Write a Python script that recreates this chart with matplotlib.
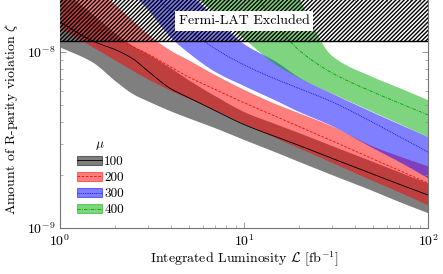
import numpy as np
import matplotlib
matplotlib.use("Agg")
import matplotlib.pyplot as plt
from matplotlib.patches import Patch
from matplotlib.lines import Line2D
from matplotlib.legend_handler import HandlerTuple
from matplotlib.ticker import NullFormatter

plt.rcParams["font.family"] = "cmr10"
plt.rcParams["mathtext.fontset"] = "cm"
plt.rcParams["axes.formatter.use_mathtext"] = True
plt.rcParams["hatch.linewidth"] = 1.0

# Luminosity grid (fb^-1)
lumi = [1, 1.5, 2, 2.5, 3, 4, 5, 7, 10, 15, 20, 30, 50, 70, 100]

# mu = 100
mu100_lo = [1.067e-8, 8.77e-9, 6.84e-9, 5.77e-9, 5.27e-9, 4.62e-9, 4.22e-9, 3.70e-9, 3.18e-9, 2.69e-9, 2.38e-9, 2.01e-9, 1.63e-9, 1.41e-9, 1.22e-9]
mu100_mid = [1.48e-8, 1.155e-8, 1.03e-8, 9.12e-9, 7.80e-9, 6.18e-9, 5.51e-9, 4.63e-9, 3.87e-9, 3.29e-9, 2.94e-9, 2.49e-9, 2.03e-9, 1.77e-9, 1.54e-9]
mu100_hi = [2.31e-8, 1.64e-8, 1.28e-8, 1.08e-8, 9.75e-9, 8.11e-9, 6.94e-9, 5.62e-9, 4.58e-9, 3.89e-9, 3.47e-9, 2.94e-9, 2.39e-9, 2.08e-9, 1.80e-9]

# mu = 200
mu200_lo = [1.37e-8, 1.07e-8, 8.97e-9, 7.82e-9, 7.03e-9, 6.04e-9, 5.45e-9, 4.66e-9, 3.91e-9, 3.24e-9, 2.84e-9, 2.36e-9, 1.86e-9, 1.60e-9, 1.35e-9]
mu200_mid = [1.78e-8, 1.41e-8, 1.20e-8, 1.067e-8, 9.75e-9, 8.22e-9, 7.21e-9, 6.12e-9, 5.15e-9, 4.29e-9, 3.76e-9, 3.13e-9, 2.47e-9, 2.12e-9, 1.80e-9]
mu200_hi = [3.56e-8, 2.43e-8, 1.85e-8, 1.50e-8, 1.265e-8, 1.02e-8, 9.01e-9, 7.40e-9, 6.12e-9, 5.06e-9, 4.50e-9, 3.80e-9, 2.92e-9, 2.56e-9, 2.25e-9]

# mu = 300
mu300_lo = [4.93e-8, 3.40e-8, 2.62e-8, 2.13e-8, 1.74e-8, 1.21e-8, 9.87e-9, 7.69e-9, 6.41e-9, 5.27e-9, 4.56e-9, 3.80e-9, 2.85e-9, 2.37e-9, 1.92e-9]
mu300_mid = [7.31e-8, 4.93e-8, 3.56e-8, 2.81e-8, 2.31e-8, 1.71e-8, 1.35e-8, 1.04e-8, 8.45e-9, 6.98e-9, 6.20e-9, 5.22e-9, 3.99e-9, 3.30e-9, 2.70e-9]
mu300_hi = [1.41e-7, 8.89e-8, 6.41e-8, 4.93e-8, 4.00e-8, 2.85e-8, 2.21e-8, 1.56e-8, 1.11e-8, 8.77e-9, 7.15e-9, 5.81e-9, 4.54e-9, 3.88e-9, 3.29e-9]

# mu = 400
mu400_lo = [1.03e-7, 7.03e-8, 5.33e-8, 4.33e-8, 3.65e-8, 2.77e-8, 2.25e-8, 1.65e-8, 1.19e-8, 8.43e-9, 7.10e-9, 5.82e-9, 4.57e-9, 3.90e-9, 3.29e-9]
mu400_mid = [3.51e-7, 2.22e-7, 1.60e-7, 1.32e-7, 1.08e-7, 8.32e-8, 6.41e-8, 4.33e-8, 2.74e-8, 1.42e-8, 1.02e-8, 7.62e-9, 5.93e-9, 5.12e-9, 4.39e-9]
mu400_hi = [1.69e-6, 1.0e-6, 7.21e-7, 5.55e-7, 4.56e-7, 3.08e-7, 2.37e-7, 1.41e-7, 7.31e-8, 3.34e-8, 2.0e-8, 9.54e-9, 7.21e-9, 6.24e-9, 5.33e-9]

mu_labels = ["100", "200", "300", "400"]
fermi_limit = 1.15e-8
x_major = [1, 10, 100]
y_major = [1e-9, 1e-8]


def smooth(x, y, n=400):
    # monotone cubic (pchip) drawing in log-log space, only for rendering
    lx, ly = np.log10(x), np.log10(y)
    h = np.diff(lx)
    d = np.diff(ly) / h
    m = np.zeros_like(lx)
    m[0], m[-1] = d[0], d[-1]
    for k in range(1, len(lx) - 1):
        if d[k - 1] * d[k] > 0:
            w1 = 2 * h[k] + h[k - 1]
            w2 = h[k] + 2 * h[k - 1]
            m[k] = (w1 + w2) / (w1 / d[k - 1] + w2 / d[k])
    xs = np.linspace(lx[0], lx[-1], n)
    idx = np.clip(np.searchsorted(lx, xs) - 1, 0, len(h) - 1)
    t = (xs - lx[idx]) / h[idx]
    h00 = 2 * t**3 - 3 * t**2 + 1
    h10 = t**3 - 2 * t**2 + t
    h01 = -2 * t**3 + 3 * t**2
    h11 = t**3 - t**2
    ys = h00 * ly[idx] + h10 * h[idx] * m[idx] + h01 * ly[idx + 1] + h11 * h[idx] * m[idx + 1]
    return 10**xs, 10**ys


fig = plt.figure(figsize=(4.43, 2.74), dpi=100)
ax = fig.add_axes([0.1354, 0.1679, 0.8307, 0.8358])

bands = [
    (mu100_lo, mu100_mid, mu100_hi, "black", "black", "-"),
    (mu200_lo, mu200_mid, mu200_hi, "red", "red", (0, (3, 2))),
    (mu300_lo, mu300_mid, mu300_hi, "blue", "blue", (0, (1, 1.2))),
    (mu400_lo, mu400_mid, mu400_hi, "#00aa00", "#00a000", (0, (4, 1.5, 1, 1.5))),
]

handles = []
for lo, mid, hi, fc, lc, ls in bands:
    xs, ylo = smooth(lumi, lo)
    _, yhi = smooth(lumi, hi)
    _, ymid = smooth(lumi, mid)
    ax.fill_between(xs, ylo, yhi, color=fc, alpha=0.5, lw=0)
    ax.plot(xs, ymid, color=lc, ls=ls, lw=0.6)
    handles.append((Patch(facecolor=fc, alpha=0.5, edgecolor=fc, lw=0.8),
                    Line2D([], [], color=lc, ls=ls, lw=0.6)))

# Fermi-LAT excluded region
ax.axhspan(fermi_limit, 1e-7, facecolor="none", edgecolor="black", hatch="////////", lw=0, zorder=5)
ax.axhline(fermi_limit, color="black", lw=1.0, zorder=6)
ax.text(10, 1.5e-8, "Fermi-LAT Excluded", ha="center", va="center", fontsize=10, zorder=7,
        bbox=dict(facecolor="white", edgecolor="none", pad=2.5))

ax.set_xscale("log")
ax.set_yscale("log")
ax.set_xticks(x_major)
ax.set_yticks(y_major)
ax.set_xlim(1, 100)
ax.set_ylim(1e-9, 2e-8)
ax.xaxis.set_minor_formatter(NullFormatter())
ax.yaxis.set_minor_formatter(NullFormatter())

ax.set_xlabel(r"Integrated Luminosity $\mathcal{L}$ [fb$^{-1}$]", fontsize=10, labelpad=1)
ax.set_ylabel(r"Amount of R-parity violation $\zeta$", fontsize=10)
ax.yaxis.set_label_coords(-0.11, 0.475)

for s in ax.spines.values():
    s.set_color("0.45")
    s.set_linewidth(0.8)
ax.tick_params(which="both", direction="in", top=True, right=True, color="0.55", labelsize=10)
ax.tick_params(which="major", length=4.5, width=0.6)
ax.tick_params(which="minor", length=2.5, width=0.5)

leg = ax.legend(handles, mu_labels, title=r"$\mu$", handler_map={tuple: HandlerTuple(ndivide=1)},
                loc="lower left", bbox_to_anchor=(0.02, 0.01), frameon=False, fontsize=9.5,
                title_fontsize=9.5, handlelength=1.9, handleheight=0.7, handletextpad=0.2,
                labelspacing=0.3, borderpad=0.2, alignment="center")

fig.savefig("out.png", dpi=100)
